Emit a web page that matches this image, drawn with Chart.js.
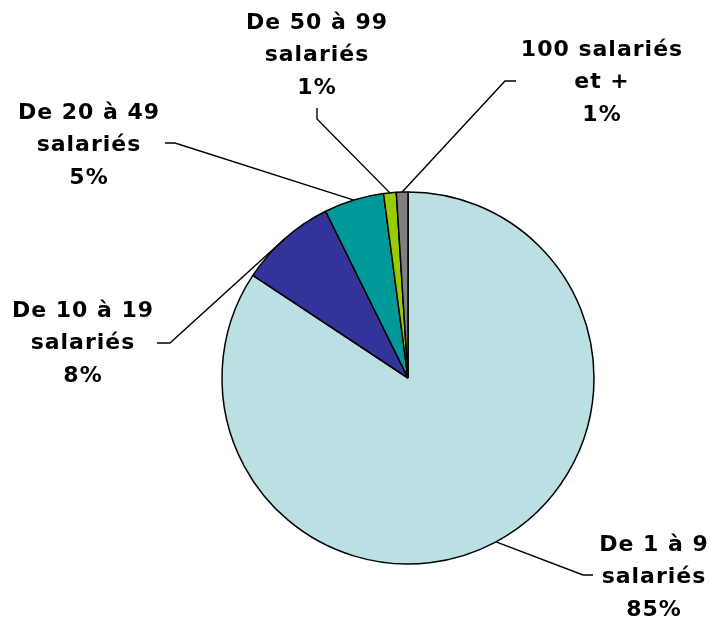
<!DOCTYPE html>
<html>
<head>
<meta charset="utf-8">
<script src="https://cdn.jsdelivr.net/npm/chart.js@4.4.1/dist/chart.umd.min.js"></script>
<style>
  html, body { margin: 0; padding: 0; background: #ffffff; }
  #wrap { width: 710px; height: 619px; position: relative; }
</style>
</head>
<body>
<div id="wrap"><canvas id="pieChart"></canvas></div>
<script>
// Répartition des établissements par taille (salariés)
const categories = ['De 1 à 9 salariés', 'De 10 à 19 salariés', 'De 20 à 49 salariés', 'De 50 à 99 salariés', '100 salariés et +'];
const shares = [84.3, 8.4, 5.2, 1.1, 1.0];
const shareLabels = ['85%', '8%', '5%', '1%', '1%'];
const labelLines = [
    ['De 1 à 9', 'salariés'],
    ['De 10 à 19', 'salariés'],
    ['De 20 à 49', 'salariés'],
    ['De 50 à 99', 'salariés'],
    ['100 salariés', 'et +']
];
const sliceColors = ['#bbe0e3', '#333399', '#009999', '#99cc00', '#808080'];

// label placement: elbow + end of leader line, text centre x and first line centre y
const labelLayout = [
    { elbow: [583, 575], end: [593, 575], cx: 654, cy: 545 },
    { elbow: [170, 343], end: [157, 343], cx: 83, cy: 311 },
    { elbow: [175, 143], end: [165, 143], cx: 89, cy: 113 },
    { elbow: [317, 119], end: [317, 108], cx: 317, cy: 23 },
    { elbow: [505, 81], end: [516, 81], cx: 602, cy: 50 }
];
const lineHeight = 32.5;

const leaderLabels = {
    id: 'leaderLabels',
    afterDraw(chart) {
        const ctx = chart.ctx;
        const arcs = chart.getDatasetMeta(0).data;
        ctx.save();
        ctx.strokeStyle = '#000000';
        ctx.lineWidth = 1.4;
        ctx.fillStyle = '#000000';
        ctx.font = "bold 22px 'DejaVu Sans'";
        ctx.letterSpacing = '1px';
        ctx.textAlign = 'center';
        ctx.textBaseline = 'middle';
        arcs.forEach((arc, i) => {
            const p = arc.getProps(['x', 'y', 'startAngle', 'endAngle', 'outerRadius'], true);
            const mid = (p.startAngle + p.endAngle) / 2;
            const sx = p.x + Math.cos(mid) * p.outerRadius;
            const sy = p.y + Math.sin(mid) * p.outerRadius;
            const lay = labelLayout[i];
            ctx.beginPath();
            ctx.moveTo(sx, sy);
            ctx.lineTo(lay.elbow[0], lay.elbow[1]);
            ctx.lineTo(lay.end[0], lay.end[1]);
            ctx.stroke();
            const lines = labelLines[i].concat([shareLabels[i]]);
            lines.forEach((t, j) => {
                ctx.fillText(t, lay.cx, lay.cy + j * lineHeight);
            });
        });
        ctx.restore();
    }
};

new Chart(document.getElementById('pieChart'), {
    type: 'pie',
    data: {
        labels: categories,
        datasets: [{
            data: shares,
            backgroundColor: sliceColors,
            borderColor: '#000000',
            borderWidth: 1.5
        }]
    },
    options: {
        responsive: true,
        maintainAspectRatio: false,
        animation: false,
        radius: 186,
        layout: {
            padding: { left: 222, right: 116, top: 192, bottom: 55 }
        },
        plugins: {
            legend: { display: false },
            tooltip: { enabled: false }
        }
    },
    plugins: [leaderLabels]
});
</script>
</body>
</html>
